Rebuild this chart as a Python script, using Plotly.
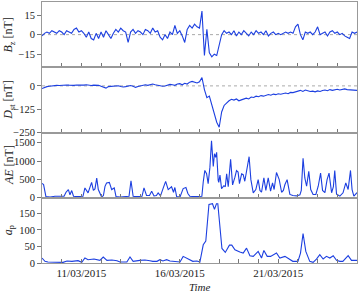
import datetime as dt
import plotly.graph_objects as go
from plotly.subplots import make_subplots

START = dt.datetime(2015, 3, 9)

# Bz [nT], 3-hourly from 09/03/2015 00:00
bz_vals = [
    -1, 1, 2, 1, 3, 2, 1, 3,
    2, 0, 3, 2, 1, 4, 5, 2,
    3, 1, -2, 2, -3, -4, 1, -3,
    2, -2, 3, 0, -3, 1, 4, 2,
    5, 3, 2, -6, 2, 4, 1, 3,
    2, 0, 4, 3, 1, 5, 2, 3,
    -2, -4, 0, -3, 2, 0, 7, 1,
    3, -1, -6, 4, 7, 5, 8, 6,
    5, 18, -16, 4, -14, -17, -15, -16,
    -8, 0, 3, 1, 2, 0, 3, -1,
    2, 0, 3, 1, -1, 2, 0, 3,
    1, 2, 0, 3, -1, 1, 2, 0,
    1, 0, 1, 2, 1, 2, 1, 6,
    8, 0, -4, 2, 1, 2, 0, 2,
    6, 0, 1, 2, -1, 2, 3, 1,
    2, 0, 1, -1, -2, -3, 2, 1,
    2,
]

# Dst [nT], 3-hourly from 09/03/2015 00:00
dst_vals = [
    -14, -8, -4, -2, 0, 2, 3, 2,
    4, 3, 5, 4, 2, 3, 5, 4,
    2, 4, 6, 3, 2, 4, 5, 3,
    -2, -6, -12, -4, -2, 0, 3, 1,
    -3, -6, -4, 0, 2, -2, -8, -3,
    0, 4, 6, 3, 8, 10, 6, 2,
    0, -2, -1, 4, 8, 6, 3, 10,
    12, 6, 14, 10, 20, 24, 18, 16,
    22, 45, -20, -63, -55, -100, -140, -195,
    -222, -140, -105, -90, -80, -72, -76, -70,
    -80, -75, -72, -66, -70, -60, -62, -55,
    -58, -52, -55, -50, -46, -50, -44, -47,
    -42, -45, -40, -38, -42, -35, -36, -31,
    -28, -24, -30, -22, -26, -30, -28, -32,
    -27, -30, -25, -22, -26, -20, -24, -21,
    -18, -22, -19, -16, -20, -22, -24, -23,
    -24,
]

# AE [nT]: days since 09/03/2015 00:00 and values
ae_day = [
    0.00, 0.08, 0.20, 0.41, 0.66, 0.91, 1.12, 1.22, 1.34, 1.42, 1.51, 1.60, 1.83,
    2.08, 2.18, 2.34, 2.52, 2.61, 2.69, 2.78, 2.86, 3.03, 3.12, 3.20, 3.28, 3.42,
    3.54, 3.67, 3.76, 3.96, 4.21, 4.42, 4.52, 4.63, 4.82, 5.08, 5.18, 5.31, 5.46,
    5.57, 5.69, 5.81, 5.90, 6.02, 6.16, 6.28, 6.41, 6.58, 6.68, 6.75, 6.84, 7.01,
    7.17, 7.31, 7.41, 7.51, 7.77, 8.02, 8.12, 8.19, 8.27, 8.36, 8.44, 8.53, 8.61,
    8.70, 8.76, 8.82, 8.87, 8.95, 8.98, 9.04, 9.12, 9.24, 9.31, 9.38, 9.46, 9.58,
    9.68, 9.80, 9.88, 9.96, 10.03, 10.14, 10.22, 10.30, 10.42, 10.52, 10.61, 10.73,
    10.86, 10.98, 11.07, 11.15, 11.27, 11.37, 11.49, 11.61, 11.71, 11.79, 11.91,
    12.05, 12.17, 12.26, 12.34, 12.45, 12.59, 12.74, 12.94, 13.10, 13.17, 13.26,
    13.35, 13.44, 13.55, 13.65, 13.77, 13.91, 14.03, 14.15, 14.25, 14.37, 14.48,
    14.58, 14.71, 14.80, 14.87, 14.96, 15.13, 15.29, 15.43, 15.55, 15.67, 15.75,
    15.84, 15.97, 16.00,
]
ae_vals = [
    390, 360, 30, 20, 40, 30, 40, 150, 223, 80, 196, 40, 30,
    40, 268, 134, 420, 200, 241, 536, 223, 20, 60, 312, 402, 420,
    223, 268, 30, 20, 30, 40, 464, 40, 30, 40, 268, 60, 60,
    178, 50, 60, 134, 50, 268, 446, 223, 300, 150, 280, 30, 20,
    250, 280, 117, 40, 30, 25, 40, 430, 745, 655, 386, 835, 1553,
    853, 1200, 1104, 1240, 476, 420, 620, 250, 330, 300, 655, 300, 1050,
    350, 560, 740, 700, 386, 650, 628, 450, 880, 1120, 494, 135,
    224, 494, 200, 150, 540, 200, 540, 180, 404, 224, 690,
    494, 150, 200, 360, 494, 90, 60, 50, 80, 200, 1078,
    540, 314, 718, 224, 90, 90, 314, 673, 200, 140, 494,
    673, 135, 300, 745, 100, 45, 135, 404, 224, 745, 224,
    45, 135, 140,
]

# ap: days since 09/03/2015 00:00 and values
ap_day = [
    0.00, 0.15, 0.30, 0.66, 1.07, 1.27, 1.52, 1.83, 2.02, 2.18, 2.34, 2.64, 2.94,
    3.11, 3.30, 3.55, 3.81, 3.96, 4.31, 4.47, 4.63, 4.97, 5.23, 5.48, 5.63, 5.84,
    5.99, 6.14, 6.33, 6.50, 6.84, 7.01, 7.17, 7.43, 7.66, 7.87, 8.02, 8.19, 8.32,
    8.48, 8.66, 8.76, 8.86, 8.93, 9.04, 9.14, 9.31, 9.52, 9.64, 9.80, 10.05, 10.22,
    10.39, 10.56, 10.73, 10.98, 11.15, 11.27, 11.44, 11.61, 11.91, 12.08, 12.34,
    12.50, 12.74, 13.00, 13.13, 13.26, 13.40, 13.60, 13.77, 13.94, 14.11, 14.28,
    14.45, 14.62, 14.79, 14.96, 15.13, 15.28, 15.55, 15.72, 16.00,
]
ap_vals = [
    15, 5, 3, 3, 2, 6, 5, 7, 2, 15, 10, 12, 8,
    18, 8, 9, 7, 3, 3, 18, 5, 8, 9, 7, 5, 5,
    10, 6, 10, 6, 3, 3, 20, 13, 5, 6, 3, 55, 66,
    177, 179, 162, 179, 179, 109, 44, 32, 54, 54, 40, 33, 30,
    45, 22, 20, 35, 15, 38, 20, 20, 30, 15, 20,
    15, 5, 5, 30, 89, 35, 5, 2, 12, 25, 12,
    20, 15, 22, 8, 5, 5, 22, 8, 8,
]

x_ticks_fmt = "%d/%m/%Y"


def to_time(days):
    return [START + dt.timedelta(days=d) for d in days]


grid_t = [START + dt.timedelta(hours=3 * i) for i in range(len(bz_vals))]

LINE = dict(color="#1c3fe0", width=1.1)
FONT = "Liberation Serif, Times New Roman, serif"

fig = make_subplots(rows=4, cols=1, shared_xaxes=True, vertical_spacing=0)
fig.add_trace(go.Scatter(x=grid_t, y=bz_vals, mode="lines", line=LINE), row=1, col=1)
fig.add_trace(go.Scatter(x=grid_t, y=dst_vals, mode="lines", line=LINE), row=2, col=1)
fig.add_trace(go.Scatter(x=to_time(ae_day), y=ae_vals, mode="lines", line=LINE), row=3, col=1)
fig.add_trace(go.Scatter(x=to_time(ap_day), y=ap_vals, mode="lines", line=LINE), row=4, col=1)

for r in (1, 2):
    fig.add_hline(y=0, line=dict(color="#aaaaaa", width=1, dash="dot"), row=r, col=1, layer="below")

xr = [START, START + dt.timedelta(days=16)]
for r in range(1, 5):
    fig.update_xaxes(
        range=xr, type="date",
        tick0="2015-03-11", dtick=5 * 86400000, tickformat=x_ticks_fmt,
        ticks="inside", ticklen=4, tickcolor="#777", tickwidth=1,
        minor=dict(dtick=86400000, tick0="2015-03-09", ticks="inside", ticklen=4, tickcolor="#777"),
        showline=True, linecolor="#999", mirror=True, showgrid=False, zeroline=False,
        showticklabels=(r == 4), automargin=False,
        tickfont=dict(family=FONT, size=11, color="#222"),
        row=r, col=1,
    )

yspecs = [
    ([-25, 25], [-15, 0, 15]),
    ([-250, 100], [-250, -125, 0]),
    ([0, 1780], [0, 500, 1000, 1500]),
    ([0, 197], [0, 50, 100, 150]),
]
for r, (rng, tv) in enumerate(yspecs, start=1):
    fig.update_yaxes(
        range=rng, tickvals=tv, ticks="outside", ticklen=4, tickcolor="#777",
        showline=True, linecolor="#999", mirror=True, showgrid=False, zeroline=False,
        automargin=False,
        tickfont=dict(family=FONT, size=10.5, color="#222"),
        row=r, col=1,
    )

titles = [
    "<i>B</i><sub>z</sub> [nT]",
    "<i>D</i><sub>st</sub> [nT]",
    "<i>AE</i> [nT]",
    "<i>a</i><sub>p</sub>",
]
for r, t in enumerate(titles, start=1):
    dom = fig.layout["yaxis" if r == 1 else f"yaxis{r}"].domain
    fig.add_annotation(
        text=t, xref="paper", yref="paper", x=-0.105, y=(dom[0] + dom[1]) / 2,
        xanchor="center", yanchor="middle", textangle=-90, showarrow=False,
        font=dict(family=FONT, size=12, color="#222"),
    )

fig.add_annotation(
    text="<i>Time</i>", xref="paper", yref="paper", x=0.5, y=0, yshift=-24,
    xanchor="center", yanchor="middle", showarrow=False,
    font=dict(family=FONT, size=11, color="#222"),
)

fig.update_layout(
    width=359, height=292, showlegend=False,
    margin=dict(l=42, r=2, t=2, b=29),
    paper_bgcolor="white", plot_bgcolor="white",
    font=dict(family=FONT),
)

fig.write_html(
    "out.html",
    config={"displayModeBar": False},
    post_script="document.body.style.margin='0';",
)
